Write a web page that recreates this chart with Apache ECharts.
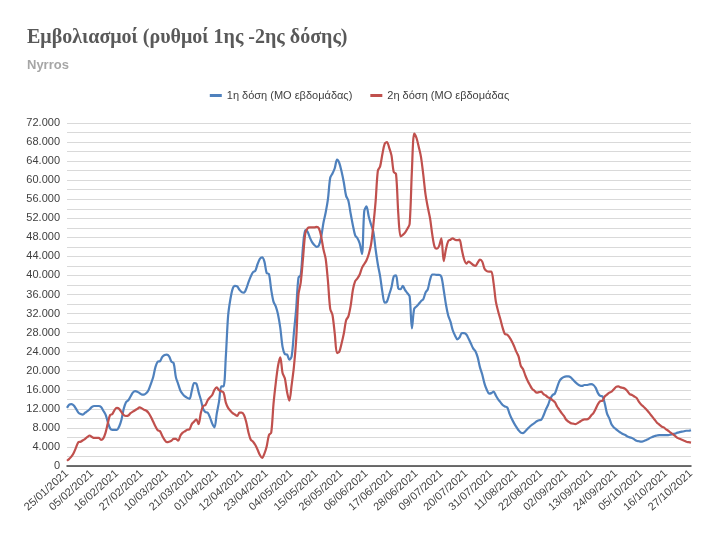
<!DOCTYPE html>
<html><head><meta charset="utf-8">
<script src="https://cdn.jsdelivr.net/npm/echarts@6/dist/echarts.min.js"></script>
<style>html,body{margin:0;padding:0;background:#fff}#c{width:719px;height:533px}</style>
</head><body><div id="c"></div>
<script>
const startDate = [2021, 0, 25];
const dayCount = 276;
const titleText = 'Εμβολιασμοί (ρυθμοί 1ης -2ης δόσης)';
const subtitleText = 'Nyrros';
const seriesNames = ['1η δόση (ΜΟ εβδομάδας)', '2η δόση (ΜΟ εβδομάδας'];
const firstDose = [12200,12900,13000,12700,12000,11200,10900,10800,11200,11500,11900,12400,12600,12600,12600,12400,11600,10800,9200,7900,
7600,7600,7600,8300,9700,12000,13400,13800,14600,15400,15700,15600,15300,15000,15000,15300,16000,17300,18700,20800,
21900,22000,22900,23300,23400,23000,21900,21600,18600,17200,15800,15100,14600,14300,14100,15800,17400,17300,15500,13900,
12000,11300,11200,10200,8900,8100,11000,13500,16700,16700,23000,31500,35000,37200,37800,37700,37000,36500,36400,37200,
38600,39800,40700,41000,42400,43500,43800,42900,40500,40300,37000,34500,33500,31800,29000,25000,23500,23400,22300,23000,
28000,33000,39500,40100,46000,49500,49200,48000,47000,46400,46000,46300,48000,51000,53200,56000,60500,61400,62500,64300,
63600,61800,59500,56700,55700,53000,50500,48400,47800,46700,44500,53500,54500,52300,50700,49200,45500,42300,39800,36500,
34300,34500,36000,37500,39800,40000,37300,37100,37800,36900,36300,35600,28900,33000,33500,34000,34600,35000,36400,37100,
39100,40200,40200,40100,40100,39700,37000,33900,31600,30300,28500,27400,26600,27000,27900,27900,27600,26700,25700,24700,
24100,22800,20700,19200,17300,16000,15200,15300,15600,14800,14000,13400,12800,12500,12300,11000,9900,9000,8200,7500,
7000,6900,7300,7800,8300,8700,9000,9400,9600,9700,10600,11800,12800,14100,14900,15200,16500,17800,18400,18700,
18800,18800,18600,18100,17600,17200,16900,16800,17000,17000,17100,17200,17000,16400,15300,14700,14600,13100,11000,10000,
8700,8100,7700,7300,7000,6700,6500,6200,6000,5900,5600,5300,5200,5100,5200,5400,5600,5900,6100,6300,
6400,6500,6500,6500,6500,6500,6600,6700,6800,7000,7100,7200,7300,7400,7400,7500];
const secondDose = [1100,1500,2000,2800,3900,5000,5100,5400,5700,6100,6400,6100,5900,5900,5900,5500,5800,7000,9000,10700,
10900,11800,12200,12000,11300,10700,10500,10600,11100,11400,11700,12000,12300,12100,11800,11600,11100,10300,9300,8300,
7500,7300,6300,5500,5000,5100,5300,5700,5700,5300,6400,7000,7300,7600,7700,8800,9300,9800,8800,11200,
12600,12800,13800,14400,14900,16000,16500,15900,15700,15400,13300,12200,11600,11100,10800,10500,11200,11200,10700,9200,
7000,5500,5100,4400,3400,2300,1700,2600,4100,6500,7000,13000,17400,21000,22800,19500,18400,15500,13700,17000,
20800,26500,36000,38500,43500,48800,49900,50100,50100,50100,50200,49900,48200,45500,43500,38800,33000,31700,27800,23700,
24000,25700,27800,30600,31400,33600,37000,38800,39400,40200,41600,42400,43200,44500,46500,50500,55500,62000,62900,65500,
67600,68000,66800,65200,61700,61300,53000,48200,48500,49000,49800,50800,62000,69800,68900,67000,64900,61200,57000,54300,
52000,48500,46000,45600,46200,47800,43000,45500,47200,47500,47800,47500,47400,47500,45400,43400,42500,42900,42600,42200,
42000,42700,43300,42900,41400,40900,40800,40800,38400,34500,32500,30800,29000,27700,27600,27000,26200,25200,24000,23000,
21000,20300,19000,17900,17000,16200,15800,15400,15500,15600,15100,14800,14400,14200,13800,13400,12500,11800,11100,10500,
9700,9300,9000,8900,8800,9000,9300,9600,9800,9800,10000,10600,11100,12000,13000,13600,13700,14600,15000,15400,
15600,16100,16600,16700,16500,16400,16200,15700,15100,14900,14600,14300,13500,12900,12500,12000,11500,10900,10300,9700,
9100,8700,8300,8100,7700,7400,7000,6700,6300,5900,5700,5500,5300,5100,5000,4900];

const pad = n => (n < 10 ? '0' : '') + n;
const categories = [];
for (let i = 0; i < dayCount; i++) {
  const d = new Date(Date.UTC(startDate[0], startDate[1], startDate[2] + i));
  categories.push(pad(d.getUTCDate()) + '/' + pad(d.getUTCMonth() + 1) + '/' + d.getUTCFullYear());
}
const fmt = v => String(v).replace(/\B(?=(\d{3})+(?!\d))/g, '.');

const chart = echarts.init(document.getElementById('c'), null, {renderer: 'canvas'});
chart.setOption({
  animation: false,
  backgroundColor: '#fff',
  title: {
    text: titleText, subtext: subtitleText, left: 22, top: 23, itemGap: 11,
    textStyle: {fontFamily: 'Liberation Serif', fontWeight: 'bold', fontSize: 20, color: '#595959'},
    subtextStyle: {fontFamily: 'Liberation Sans', fontWeight: 'bold', fontSize: 13, color: '#a6a6a6'}
  },
  legend: {
    top: 85, left: 'center', itemWidth: 12, itemHeight: 3, itemGap: 18, icon: 'rect',
    textStyle: {fontFamily: 'Liberation Sans', fontSize: 11, color: '#404040'}
  },
  grid: {left: 67, right: 28, top: 123, bottom: 67, containLabel: false},
  xAxis: {
    type: 'category', data: categories, boundaryGap: false,
    axisLine: {lineStyle: {color: '#404040', width: 1.5}},
    axisTick: {show: false},
    axisLabel: {interval: 10, rotate: 42, margin: 6, fontFamily: 'Liberation Sans', fontSize: 11, color: '#404040'}
  },
  yAxis: {
    type: 'value', min: 0, max: 72000, interval: 2000,
    axisLine: {show: false}, axisTick: {show: false},
    splitLine: {lineStyle: {color: '#d9d9d9', width: 1}},
    axisLabel: {margin: 7, fontFamily: 'Liberation Sans', fontSize: 11, color: '#404040',
      formatter: v => (v % 4000 === 0 ? fmt(v) : '')}
  },
  series: [
    {name: seriesNames[0], type: 'line', data: firstDose, showSymbol: false, smooth: 0.3,
     lineStyle: {color: '#4F81BD', width: 2.2}, itemStyle: {color: '#4F81BD'}},
    {name: seriesNames[1], type: 'line', data: secondDose, showSymbol: false, smooth: 0.3,
     lineStyle: {color: '#C0504D', width: 2.2}, itemStyle: {color: '#C0504D'}}
  ]
});
</script></body></html>
